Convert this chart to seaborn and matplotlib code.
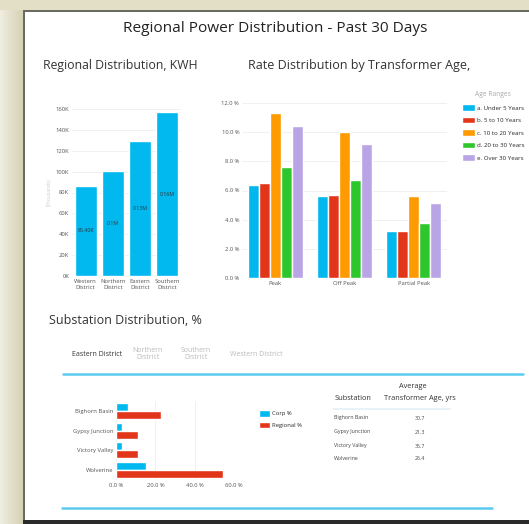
import matplotlib.pyplot as plt
import matplotlib.patches as mpatches
import seaborn as sns
import pandas as pd
import numpy as np

# ---- data ----
districts = ['Western\nDistrict', 'Northern\nDistrict', 'Eastern\nDistrict', 'Southern\nDistrict']
kwh = [86400, 101000, 129000, 157000]
kwh_labels = ['86.40K', '0.1M', '0.13M', '0.16M']

periods = ['Peak', 'Off Peak', 'Partial Peak']
age_ranges = ['a. Under 5 Years', 'b. 5 to 10 Years', 'c. 10 to 20 Years',
              'd. 20 to 30 Years', 'e. Over 30 Years']
rate_under5 = [6.4, 5.6, 3.2]
rate_5to10 = [6.5, 5.7, 3.25]
rate_10to20 = [11.3, 10.0, 5.6]
rate_20to30 = [7.6, 6.7, 3.8]
rate_over30 = [10.4, 9.2, 5.15]
age_colors = ['#00B7EE', '#E2361A', '#FF9A00', '#2DC72D', '#B9A5E6']

tabs = ['Eastern District', 'Northern\nDistrict', 'Southern\nDistrict', 'Western District']
substations = ['Bighorn Basin', 'Gypsy Junction', 'Victory Valley', 'Wolverine']
corp_pct = [6.3, 3.0, 3.0, 15.0]
regional_pct = [22.7, 11.0, 11.0, 54.4]
avg_age = ['30.7', '21.3', '36.7', '26.4']

sns.set_style('white')
plt.rcParams['font.family'] = ['Open Sans', 'DejaVu Sans']

W, H = 529, 524
fig = plt.figure(figsize=(W / 100, H / 100), dpi=100)


def px_box(x0, y0, x1, y1):
    # pixel box (top-left origin) -> figure fraction
    return [x0 / W, 1 - y1 / H, (x1 - x0) / W, (y1 - y0) / H]


# background frame
bg = fig.add_axes([0, 0, 1, 1], zorder=-5)
c1 = np.array([239, 237, 223]) / 255
c2 = np.array([214, 210, 182]) / 255
grad = np.linspace(0, 1, 30)[None, :, None] * (c2 - c1) + c1
bg.imshow(grad, extent=(0, 23, H, 0), aspect='auto')
bg.add_patch(mpatches.Rectangle((0, 0), W, 10, color='#E3DFC6', lw=0))
bg.add_patch(mpatches.Rectangle((23, 10), W, 2, color='#6A6A60', lw=0))
bg.add_patch(mpatches.Rectangle((23, 10), 2, H, color='#6A6A60', lw=0))
bg.add_patch(mpatches.Rectangle((25, 12), W, 508, color='white', lw=0))
bg.add_patch(mpatches.Rectangle((23, 520), W, 4, color='#2A2A2A', lw=0))
bg.set_xlim(0, W)
bg.set_ylim(H, 0)
bg.axis('off')

# titles
bg.text(275, 28, 'Regional Power Distribution - Past 30 Days', ha='center', va='center',
        fontsize=11.1, color='#222222')
bg.text(43, 65, 'Regional Distribution, KWH', ha='left', va='center', fontsize=8.8, color='#333333')
bg.text(248, 65, 'Rate Distribution by Transformer Age,', ha='left', va='center', fontsize=9,
        color='#333333')
bg.text(49, 321, 'Substation Distribution, %', ha='left', va='center', fontsize=9, color='#333333')

# tabs
tab_x = [97, 148, 196, 256]
for i, t in enumerate(tabs):
    bg.text(tab_x[i], 354, t, ha='center', va='center', fontsize=5,
            color='#333333' if i == 0 else '#BBBBBB', linespacing=1.1)
bg.plot([63, 523], [374, 374], color='#5CCBF0', lw=1.8)
bg.plot([62, 492], [508, 508], color='#5CCBF0', lw=1.8)

# table
bg.text(353, 399, 'Substation', ha='center', va='center', fontsize=5.3, color='#333333')
bg.text(413, 387, 'Average', ha='center', va='center', fontsize=5.3, color='#333333')
bg.text(420, 399, 'Transformer Age, yrs', ha='center', va='center', fontsize=5.3, color='#333333')
bg.plot([333, 450], [409, 409], color='#E3F1F8', lw=1.2)
row_y = [418, 432, 446, 459]
for i, s in enumerate(substations):
    bg.text(334, row_y[i], s, ha='left', va='center', fontsize=3.8, color='#444444')
    bg.text(420, row_y[i], avg_age[i], ha='center', va='center', fontsize=3.8, color='#444444')

tick_kw = dict(labelsize=4.2, colors='#555555', length=0, pad=2)

# ---- regional distribution bars ----
ax1 = fig.add_axes(px_box(72, 109, 181, 276))
sns.barplot(x=districts, y=kwh, color='#01B8EF', saturation=1, width=0.8, ax=ax1, zorder=3)
ax1.bar_label(ax1.containers[0], labels=kwh_labels, label_type='center', fontsize=3.8,
              color='#333333')
ax1.set_ylim(0, 160000)
ax1.set_yticks(range(0, 160001, 20000))
ax1.set_yticklabels([f'{v // 1000}K' for v in range(0, 160001, 20000)])
ax1.yaxis.grid(True, color='#EEEEEE', lw=0.6)
ax1.set_ylabel('(Thousands)', fontsize=3.5, color='#CCCCCC', labelpad=3)
ax1.tick_params(**tick_kw)
ax1.set_facecolor('none')
sns.despine(ax=ax1, left=True, bottom=True)

# ---- rate distribution grouped bars ----
rates = [rate_under5, rate_5to10, rate_10to20, rate_20to30, rate_over30]
df_rate = pd.DataFrame({
    'period': periods * len(age_ranges),
    'age': [a for a in age_ranges for _ in periods],
    'rate': [v for r in rates for v in r],
})
ax2 = fig.add_axes(px_box(242, 103, 447, 278))
sns.barplot(data=df_rate, x='period', y='rate', hue='age', palette=age_colors,
            saturation=1, width=0.8, ax=ax2, zorder=3)
ax2.set_ylim(0, 12)
ax2.set_xlim(-0.48, 2.48)
ax2.set_yticks(range(0, 13, 2))
ax2.set_yticklabels([f'{v:.1f} %' for v in range(0, 13, 2)])
ax2.yaxis.grid(True, color='#EEEEEE', lw=0.6)
ax2.set_xlabel('')
ax2.set_ylabel('')
ax2.tick_params(**tick_kw)
ax2.set_facecolor('none')
ax2.axhline(0, color='#DDDDDD', lw=0.6)
sns.despine(ax=ax2, left=True, bottom=True)
h2, l2 = ax2.get_legend_handles_labels()
ax2.legend(h2, l2, title='Age Ranges', loc='upper left', bbox_to_anchor=(456 / W, 1 - 86 / H),
           bbox_transform=fig.transFigure, frameon=False, fontsize=4.4, title_fontsize=4.8,
           handlelength=2.2, handleheight=1.3, labelspacing=0.95, handletextpad=0.3)
ax2.get_legend().get_title().set_color('#AAAAAA')

# ---- substation horizontal bars ----
df_sub = pd.DataFrame({
    'substation': substations * 2,
    'series': ['Corp %'] * 4 + ['Regional %'] * 4,
    'pct': corp_pct + regional_pct,
})
ax3 = fig.add_axes(px_box(116, 401, 234, 480))
sns.barplot(data=df_sub, y='substation', x='pct', hue='series', orient='h',
            palette=['#01B8EF', '#E2361A'], saturation=1, width=0.8, ax=ax3, zorder=3)
ax3.set_xlim(0, 60)
ax3.set_xticks([0, 20, 40, 60])
ax3.set_xticklabels(['0.0 %', '20.0 %', '40.0 %', '60.0 %'])
ax3.xaxis.grid(True, color='#EEEEEE', lw=0.6)
ax3.set_xlabel('')
ax3.set_ylabel('')
ax3.tick_params(**tick_kw)
ax3.set_facecolor('none')
sns.despine(ax=ax3, left=True, bottom=True)
h3, l3 = ax3.get_legend_handles_labels()
ax3.legend(h3, l3, loc='upper left', bbox_to_anchor=(254 / W, 1 - 405 / H),
           bbox_transform=fig.transFigure, frameon=False, fontsize=4.2,
           handlelength=1.8, handleheight=1.3, labelspacing=0.85, handletextpad=0.3)

fig.savefig('out.png', dpi=100)
